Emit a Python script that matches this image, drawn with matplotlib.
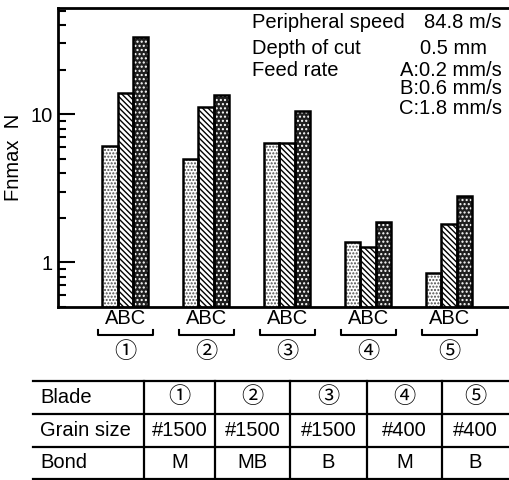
import numpy as np
import matplotlib
matplotlib.use("Agg")
import matplotlib.pyplot as plt
from matplotlib.lines import Line2D
from matplotlib.ticker import LogLocator, FormatStrFormatter, NullFormatter
from matplotlib.transforms import blended_transform_factory

plt.rcParams['font.family'] = ['Liberation Sans', 'Noto Sans CJK JP', 'DejaVu Sans']
plt.rcParams['hatch.linewidth'] = 1.0

# max normal force per blade, feed rates A/B/C
blades = ['①', '②', '③', '④', '⑤']
force_a = [6.1, 5.0, 6.4, 1.37, 0.84]
force_b = [13.9, 11.2, 6.4, 1.25, 1.81]
force_c = [32.9, 13.5, 10.5, 1.87, 2.78]

# blade specification table
row_names = ['Blade', 'Grain size', 'Bond']
grain = ['#1500', '#1500', '#1500', '#400', '#400']
bond = ['M', 'MB', 'B', 'M', 'B']

W, H = 509, 480
fig = plt.figure(figsize=(W / 100, H / 100), dpi=100)
ax = fig.add_axes([58 / W, 1 - 307 / H, 1 - 58 / W, 299 / H])

x = np.arange(len(blades))
w = 0.19
fs = 14.5
circ_fs = 16

# A: light dots, B: diagonal lines, C: dark with white dots
ax.bar(x - w, force_a, w, bottom=0.01, color='white', edgecolor='0.3', hatch='.....', lw=0)
ax.bar(x, force_b, w, bottom=0.01, color='white', edgecolor='black', hatch='\\\\\\\\\\\\', lw=0)
ax.bar(x + w, force_c, w, bottom=0.01, color='0.12', edgecolor='white', hatch='....', lw=0)
for off, vals in [(-w, force_a), (0, force_b), (w, force_c)]:
    ax.bar(x + off, vals, w, bottom=0.01, fill=False, edgecolor='black', lw=1.8)

ax.set_yscale('log')
ax.set_ylim(0.5, 52)
ax.set_xlim(-0.83, 4.74)
ax.yaxis.set_major_locator(LogLocator(base=10))
ax.yaxis.set_minor_locator(LogLocator(base=10, subs=np.arange(2, 10)))
ax.yaxis.set_major_formatter(FormatStrFormatter('%g'))
ax.yaxis.set_minor_formatter(NullFormatter())
ax.tick_params(axis='y', which='major', direction='in', length=12, width=1.5, labelsize=fs, pad=4)
ax.tick_params(axis='y', which='minor', direction='in', length=6, width=1.5)
ax.set_xticks([])
ax.spines['right'].set_visible(False)
for s in ['left', 'bottom', 'top']:
    ax.spines[s].set_linewidth(2)
ax.set_ylabel('Fnmax  N', fontsize=fs, labelpad=5)

# group labels under the axis
tr = blended_transform_factory(ax.transData, ax.transAxes)
for xi, name in zip(x, blades):
    ax.text(xi, -0.037, 'ABC', transform=tr, ha='center', va='center', fontsize=fs, clip_on=False)
    bx = [xi - 0.34, xi - 0.34, xi + 0.34, xi + 0.34]
    by = [-0.077, -0.094, -0.094, -0.077]
    ax.add_line(Line2D(bx, by, transform=tr, color='black', lw=1.5, clip_on=False))
    ax.text(xi, -0.152, name, transform=tr, ha='center', va='center', fontsize=circ_fs, clip_on=False)

# test conditions
def ftext(px, py, s, ha='left', size=fs):
    fig.text(px / W, 1 - py / H, s, ha=ha, va='center', fontsize=size)

ftext(252, 23, 'Peripheral speed')
ftext(502, 23, '84.8 m/s', ha='right')
ftext(252, 48, 'Depth of cut')
ftext(453, 48, '0.5 mm', ha='center')
ftext(252, 70, 'Feed rate')
ftext(502, 70, 'A:0.2 mm/s', ha='right')
ftext(502, 89, 'B:0.6 mm/s', ha='right')
ftext(502, 108, 'C:1.8 mm/s', ha='right')

# specification table drawn in figure pixels
row_y = [381, 414, 447, 479]
col_x = [144, 215, 290, 367, 442, W]
for yy in row_y:
    fig.add_artist(Line2D([33 / W, 1], [1 - yy / H] * 2, color='black', lw=1.6))
for xx in col_x[:-1]:
    fig.add_artist(Line2D([xx / W] * 2, [1 - row_y[0] / H, 1 - row_y[-1] / H], color='black', lw=1.6))

rows = [blades, grain, bond]
for r, (label, cells) in enumerate(zip(row_names, rows)):
    cy = (row_y[r] + row_y[r + 1]) / 2
    ftext(40, cy, label)
    for c, val in enumerate(cells):
        ftext((col_x[c] + col_x[c + 1]) / 2, cy, val, ha='center',
              size=circ_fs if r == 0 else fs)

fig.savefig('out.png', dpi=100)
